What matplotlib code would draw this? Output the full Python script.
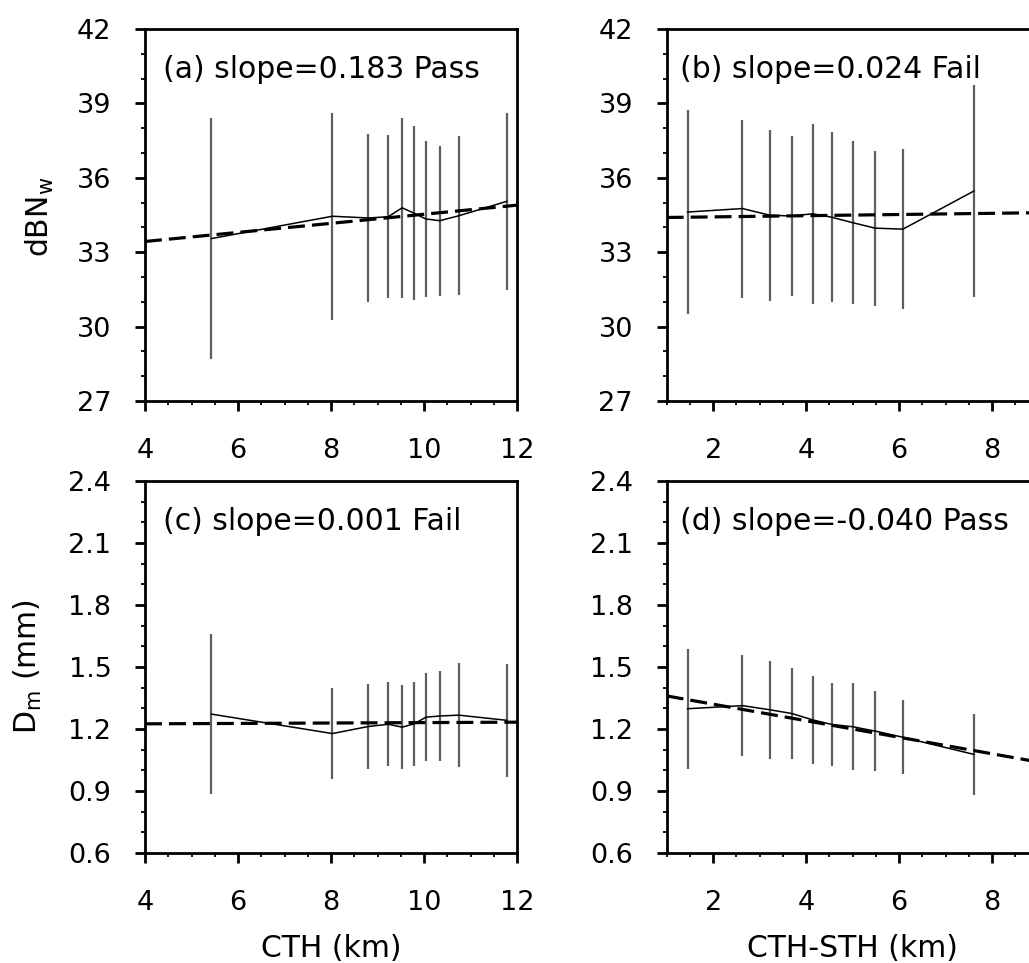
import matplotlib
matplotlib.use("Agg")
import matplotlib.pyplot as plt
from matplotlib.ticker import MultipleLocator, FormatStrFormatter
import numpy as np

plt.rcParams['font.family'] = ['DejaVu Sans']
plt.rcParams['mathtext.default'] = 'regular'

# ---- data ----
cth = [5.43, 8.03, 8.80, 9.23, 9.53, 9.79, 10.04, 10.34, 10.75, 11.78]
depth = [1.45, 2.63, 3.22, 3.69, 4.14, 4.55, 5.00, 5.48, 6.08, 7.61]

dbnw_cth_mean = [33.55, 34.45, 34.38, 34.43, 34.79, 34.57, 34.34, 34.27, 34.47, 35.05]
dbnw_cth_std = [4.87, 4.17, 3.37, 3.29, 3.62, 3.50, 3.13, 3.03, 3.21, 3.57]

dbnw_dep_mean = [34.62, 34.76, 34.49, 34.46, 34.55, 34.41, 34.19, 33.97, 33.93, 35.47]
dbnw_dep_std = [4.11, 3.59, 3.45, 3.21, 3.62, 3.43, 3.29, 3.13, 3.23, 4.29]

dm_cth_mean = [1.272, 1.178, 1.212, 1.223, 1.209, 1.225, 1.257, 1.263, 1.267, 1.242]
dm_cth_std = [0.388, 0.220, 0.207, 0.204, 0.203, 0.203, 0.214, 0.220, 0.252, 0.274]

dm_dep_mean = [1.298, 1.313, 1.293, 1.275, 1.244, 1.222, 1.211, 1.190, 1.160, 1.077]
dm_dep_std = [0.290, 0.246, 0.237, 0.220, 0.214, 0.203, 0.211, 0.195, 0.178, 0.195]

fit_intercepts = [32.70, 34.376, 1.221, 1.40]
fit_slopes = [0.183, 0.024, 0.001, -0.040]
panel_labels = ["(a) slope=0.183 Pass", "(b) slope=0.024 Fail",
                "(c) slope=0.001 Fail", "(d) slope=-0.040 Pass"]

W, H = 1029, 963
fig = plt.figure(figsize=(W / 100, H / 100), dpi=100)

def px_rect(left, top, width, height):
    return [left / W, 1 - (top + height) / H, width / W, height / H]

axw = 372
rects = [px_rect(145, 29, axw, 372), px_rect(666.7, 29, axw, 372),
         px_rect(145, 481, axw, 372), px_rect(666.7, 481, axw, 372)]

panels = [
    (cth, dbnw_cth_mean, dbnw_cth_std, (4, 12), (27, 42), 3, 1, "%d"),
    (depth, dbnw_dep_mean, dbnw_dep_std, (1, 9), (27, 42), 3, 1, "%d"),
    (cth, dm_cth_mean, dm_cth_std, (4, 12), (0.6, 2.4), 0.3, 0.1, "%.1f"),
    (depth, dm_dep_mean, dm_dep_std, (1, 9), (0.6, 2.4), 0.3, 0.1, "%.1f"),
]

text_x = [0.0474, 0.037, 0.0474, 0.037]

for i, (x, m, s, xl, yl, ymaj, ymin, fmt) in enumerate(panels):
    ax = fig.add_axes(rects[i])
    x = np.array(x); m = np.array(m); s = np.array(s)
    ax.vlines(x, m - s, m + s, colors='#5e5e5e', linewidth=1.6, zorder=2)
    ax.plot(x, m, color='black', linewidth=1.1, zorder=3)
    xf = np.array(xl, dtype=float)
    yf = fit_intercepts[i] + fit_slopes[i] * xf
    ln, = ax.plot(xf, yf, color='black', linewidth=2.3, zorder=4,
                  solid_capstyle='butt', dash_capstyle='butt')
    ln.set_dashes([5.3, 2.2])
    ax.set_xlim(xl)
    ax.set_ylim(yl)
    ax.xaxis.set_major_locator(MultipleLocator(2))
    ax.xaxis.set_minor_locator(MultipleLocator(0.5))
    ax.yaxis.set_major_locator(MultipleLocator(ymaj))
    ax.yaxis.set_minor_locator(MultipleLocator(ymin))
    ax.yaxis.set_major_formatter(FormatStrFormatter(fmt))
    ax.xaxis.set_major_formatter(FormatStrFormatter("%d"))
    for sp in ax.spines.values():
        sp.set_linewidth(2.0)
    ax.tick_params(which='major', direction='out', length=7.2, width=2.0,
                   labelsize=19.5, top=False, right=False)
    ax.tick_params(which='minor', direction='out', length=3.0, width=1.3,
                   top=False, right=False)
    ax.tick_params(axis='x', which='major', pad=19.5)
    ax.tick_params(axis='y', which='major', pad=17)
    ax.text(text_x[i], 0.868, panel_labels[i], transform=ax.transAxes,
            fontsize=21.5, ha='left', va='baseline')

fig.text(40 / W, 1 - 217 / H, r'dBN$_{w}$', rotation=90, fontsize=21.5,
         ha='center', va='center')
fig.text(28 / W, 1 - 667 / H, r'D$_{m}$ (mm)', rotation=90, fontsize=21.5,
         ha='center', va='center')
fig.text(331 / W, (H - 957) / H, 'CTH (km)', fontsize=21.5, ha='center', va='baseline')
fig.text(852.7 / W, (H - 957) / H, 'CTH-STH (km)', fontsize=21.5, ha='center', va='baseline')

fig.savefig('out.png', dpi=100)
